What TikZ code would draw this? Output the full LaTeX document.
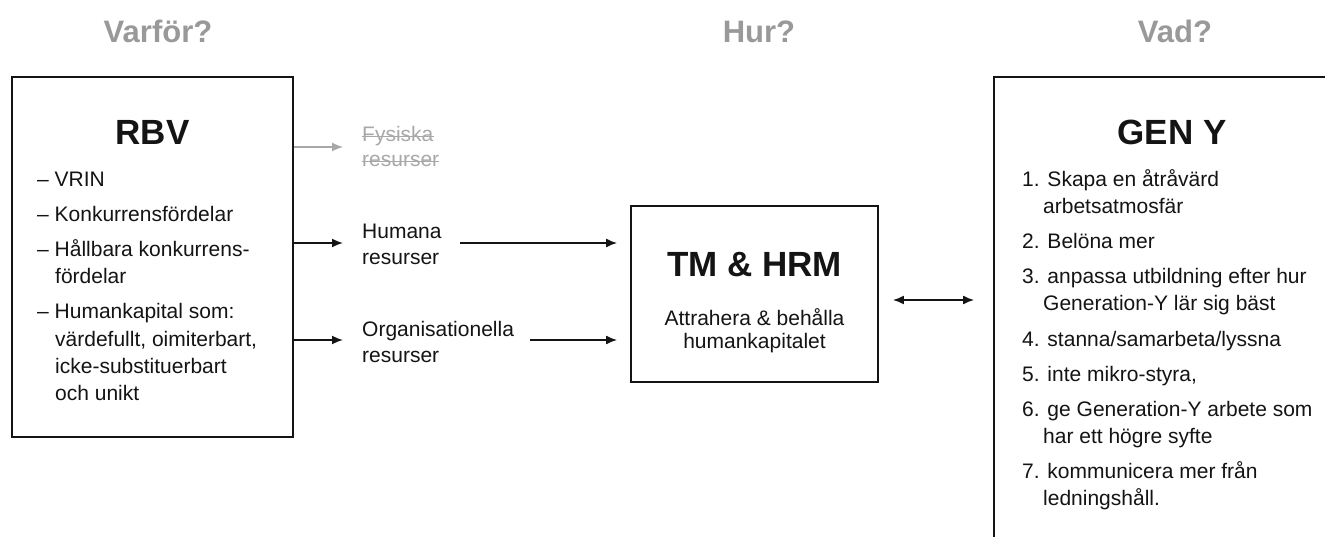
\documentclass[tikz,border=0pt]{standalone}
\usepackage{fontspec}
\setmainfont{Liberation Sans}
\usetikzlibrary{arrows.meta}
\definecolor{titlegray}{HTML}{999999}
\definecolor{ink}{HTML}{141414}
\definecolor{fadegray}{HTML}{A8A8A8}
\begin{document}
\begin{tikzpicture}[x=1pt,y=-1pt,
  box/.style={draw=ink, line width=1.8pt, inner sep=0pt},
  qtitle/.style={font=\fontsize{31}{36}\selectfont\bfseries, text=titlegray, anchor=base, inner sep=0pt},
  head/.style={font=\fontsize{35}{40}\selectfont\bfseries, text=ink, anchor=base, inner sep=0pt},
  body/.style={font=\fontsize{21}{26}\selectfont, text=ink, anchor=base west, inner sep=0pt},
  cbody/.style={font=\fontsize{21}{26}\selectfont, text=ink, anchor=base, inner sep=0pt},
  lbl/.style={font=\fontsize{21}{26}\selectfont, text=ink, align=left, anchor=west, inner sep=0pt},
  strike/.style={draw=fadegray, line width=1.1pt},
  arr/.style={draw=ink, line width=1.7pt, -{Latex[length=11pt,width=9pt]}},
  dblarr/.style={draw=ink, line width=1.7pt, {Latex[length=11pt,width=9pt]}-{Latex[length=11pt,width=9pt]}},
]
\useasboundingbox (0,0) rectangle (1325,537);
\clip (0,0) rectangle (1325,537);
\fill[white] (0,0) rectangle (1325,537);

% column titles
\node[qtitle] (qwhy) at (158,43) {Varför?};
\node[qtitle] (qhow) at (759,43) {Hur?};
\node[qtitle] (qwhat) at (1175,43) {Vad?};

% boxes
\node[box, minimum width=281pt, minimum height=360pt] (rbv) at (152.5,257) {};
\node[box, minimum width=247pt, minimum height=176pt] (tm) at (754.5,294) {};
\node[box, minimum width=356pt, minimum height=483pt] (geny) at (1172,318.5) {};

% RBV content
\node[head] (rbvt) at (152.5,145) {RBV};
\node[body] (r1) at (37,187) {– VRIN};
\node[body] (r2) at (37,222) {– Konkurrensfördelar};
\node[body] (r3) at (37,257) {– Hållbara konkurrens-};
\node[body] (r4) at (55,284) {fördelar};
\node[body] (r5) at (37,319) {– Humankapital som:};
\node[body] (r6) at (55,346) {värdefullt, oimiterbart,};
\node[body] (r7) at (55,373) {icke-substituerbart};
\node[body] (r8) at (55,400) {och unikt};

% TM & HRM content
\node[head] (tmt) at (754.5,277) {TM \& HRM};
\node[cbody] (tm1) at (754.5,325) {Attrahera \& behålla};
\node[cbody] (tm2) at (754.5,348) {humankapitalet};

% GEN Y content
\node[head] (genyt) at (1172,145) {GEN Y};
\node[body] (g1) at (1022,187) {1. Skapa en åtråvärd};
\node[body] (g2) at (1043,214) {arbetsatmosfär};
\node[body] (g3) at (1022,249) {2. Belöna mer};
\node[body] (g4) at (1022,284) {3. anpassa utbildning efter hur};
\node[body] (g5) at (1043,311) {Generation-Y lär sig bäst};
\node[body] (g6) at (1022,346) {4. stanna/samarbeta/lyssna};
\node[body] (g7) at (1022,381) {5. inte mikro-styra,};
\node[body] (g8) at (1022,416) {6. ge Generation-Y arbete som};
\node[body] (g9) at (1043,443) {har ett högre syfte};
\node[body] (g10) at (1022,478) {7. kommunicera mer från};
\node[body] (g11) at (1043,505) {ledningshåll.};

% resource labels
\node[body, text=fadegray] (fys1) at (362,142) {Fysiska};
\node[body, text=fadegray] (fys2) at (362,167) {resurser};
\draw[strike] ([yshift=5.5pt]fys1.base west) -- ([yshift=5.5pt]fys1.base east);
\draw[strike] ([yshift=5.5pt]fys2.base west) -- ([yshift=5.5pt]fys2.base east);
\node[lbl] (hum) at (362,244.5) {Humana\\resurser};
\node[lbl] (org) at (362,341.5) {Organisationella\\resurser};

% connectors
\coordinate (fysend) at (343,147);
\coordinate (humend) at (343,243);
\coordinate (orgend) at (343,340);
\draw[arr, draw=fadegray, line width=1.2pt] (rbv.east |- fysend) -- (fysend);
\draw[arr] (rbv.east |- humend) -- (humend);
\draw[arr] (rbv.east |- orgend) -- (orgend);

\coordinate (humstart) at (460,243);
\coordinate (orgstart) at (530,340);
\draw[arr, shorten >=13pt] (humstart) -- (humstart -| tm.west);
\draw[arr, shorten >=13pt] (orgstart) -- (orgstart -| tm.west);

\coordinate (dbl) at (0,300);
\draw[dblarr, shorten <=14pt, shorten >=19pt] (tm.east |- dbl) -- (geny.west |- dbl);
\end{tikzpicture}
\end{document}
